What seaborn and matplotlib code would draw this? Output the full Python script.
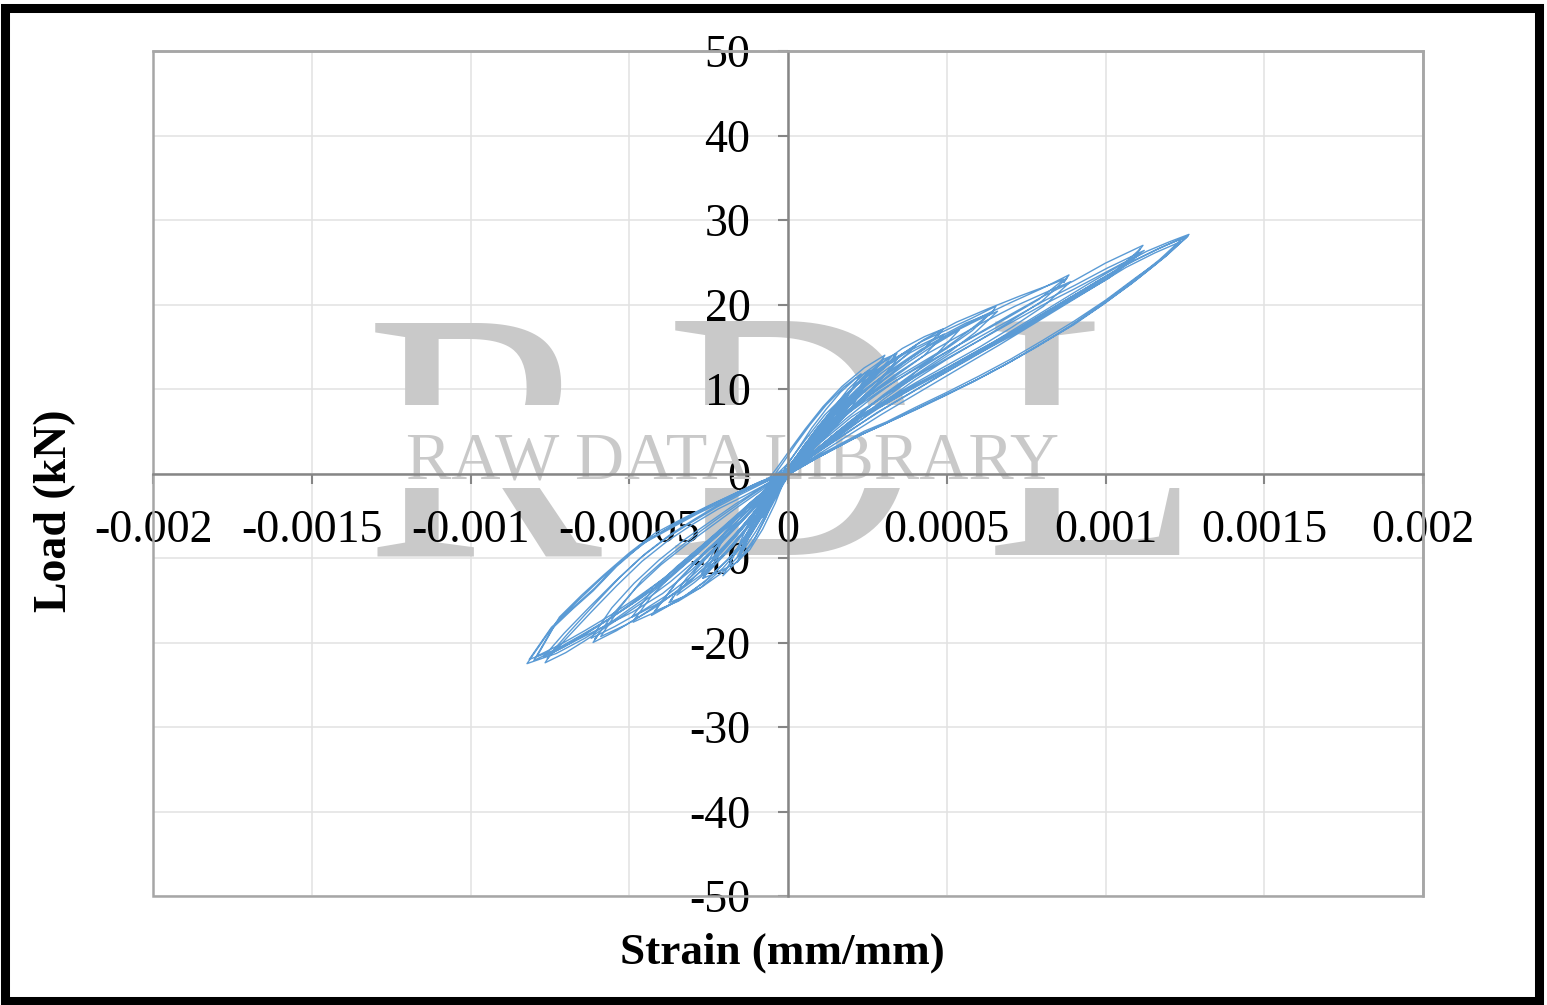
import matplotlib
matplotlib.use("Agg")
import matplotlib.pyplot as plt
from matplotlib.patches import Rectangle
import pandas as pd
import seaborn as sns

strain_01 = [0, 30, 60, 35, 10, -20, -50, -80, -55, -25, 0]
load_01 = [0.2, 2.0, 3.8, 2.5, 0.9, -1.2, -3.2, -5.2, -3.2, -1.4, 0.2]
strain_02 = [0, 40, 80, 110, 80, 45, 10, -30, -70, -120, -85, -45, -5]
load_02 = [0.3, 2.6, 4.6, 6.0, 4.2, 2.2, 0.4, -2.0, -4.4, -7.4, -4.8, -2.2, 0.3]
strain_03 = [0, 50, 110, 170, 130, 80, 25, -30, -90, -160, -115, -60, -10]
load_03 = [0.4, 3.2, 6.1, 8.8, 6.2, 3.6, 0.9, -1.9, -5.5, -9.9, -6.4, -3.0, 0.2]
strain_04 = [-5, 45, 100, 172, 125, 70, 20, -35, -95, -165, -125, -70, -15]
load_04 = [0.2, 2.6, 5.2, 8.6, 5.6, 3.0, 0.6, -1.7, -4.8, -9.4, -5.9, -2.8, 0.1]
strain_05 = [-5, 50, 120, 190, 258, 200, 130, 60, 5, -50, -120, -200, -268, -210, -130, -60, -10]
load_05 = [0.3, 3.2, 6.5, 9.6, 12.2, 8.3, 5.0, 2.3, 0.2, -2.4, -5.9, -9.5, -12.4, -8.2, -4.2, -1.8, 0.1]
strain_06 = [-10, 50, 130, 200, 262, 190, 110, 45, -5, -60, -130, -205, -272, -200, -120, -55, -12]
load_06 = [0.1, 2.7, 5.9, 9.0, 11.7, 7.2, 4.0, 1.6, -0.2, -2.5, -5.6, -8.9, -11.8, -7.0, -3.5, -1.5, 0.0]
strain_07 = [0, 40, 90, 140, 190, 245, 300, 343, 332, 338, 300, 250, 200, 150, 100, 50, 5]
load_07 = [0.7, 2.7, 5.3, 7.6, 10.0, 12.0, 13.5, 14.2, 13.6, 14.0, 12.4, 10.6, 8.7, 6.7, 4.5, 2.3, 0.2]
strain_08 = [0, 45, 100, 160, 220, 285, 345, 295, 240, 185, 130, 80, 30, -10, -50, -100, -150, -210, -270, -330, -375, -362, -368, -320, -260, -200, -140, -80, -20]
load_08 = [0.5, 2.7, 5.2, 7.8, 10.1, 12.2, 13.6, 11.2, 9.2, 7.1, 5.1, 3.1, 1.1, -0.6, -3.5, -6.8, -9.6, -11.8, -13.4, -14.6, -15.3, -14.6, -15.0, -12.4, -10.0, -7.8, -5.5, -3.0, -0.5]
strain_09 = [0, 50, 100, 160, 220, 290, 360, 430, 488, 472, 480, 430, 370, 300, 230, 160, 90, 30, -5, -60, -120, -180, -250, -320, -400, -488, -474, -482, -430, -360, -290, -220, -150, -80, -10]
load_09 = [0.6, 3.0, 5.4, 8.1, 10.6, 12.9, 14.8, 16.2, 17.1, 16.3, 16.8, 14.8, 13.2, 11.1, 8.9, 6.5, 3.7, 1.2, 0.0, -3.5, -7.0, -9.8, -12.4, -14.4, -16.1, -17.6, -16.8, -17.2, -14.5, -11.8, -9.4, -7.2, -4.9, -2.5, 0.0]
strain_10 = [-5, 55, 115, 175, 240, 310, 380, 440, 492, 430, 360, 290, 220, 150, 85, 25, -10, -70, -135, -200, -270, -340, -415, -492, -425, -350, -280, -210, -140, -70, -5]
load_10 = [0.3, 3.0, 5.7, 8.1, 10.5, 12.7, 14.5, 15.6, 16.5, 14.0, 12.1, 10.2, 8.1, 5.8, 3.2, 0.9, -0.4, -3.4, -6.7, -9.4, -11.9, -13.8, -15.5, -17.0, -13.7, -11.0, -8.8, -6.6, -4.3, -2.0, 0.2]
strain_11 = [0, 60, 120, 180, 250, 330, 420, 500, 580, 655, 642, 650, 580, 500, 420, 340, 260, 180, 100, 30, -15, -80, -150, -230, -310, -390, -470, -540, -614, -600, -608, -550, -480, -400, -320, -240, -160, -80, -10]
load_11 = [0.5, 3.4, 6.1, 8.6, 11.1, 13.4, 15.6, 17.0, 18.4, 19.8, 19.0, 19.4, 16.9, 14.8, 12.9, 11.0, 8.8, 6.4, 3.8, 1.1, -0.4, -3.4, -6.8, -10.0, -12.8, -15.0, -17.0, -18.6, -20.0, -19.2, -19.6, -16.6, -13.6, -10.8, -8.4, -6.2, -4.0, -1.9, 0.0]
strain_12 = [-5, 65, 130, 200, 275, 360, 445, 525, 600, 660, 590, 510, 430, 350, 270, 190, 110, 40, -12, -75, -145, -225, -305, -385, -465, -545, -620, -555, -485, -405, -325, -245, -165, -85, -15]
load_12 = [0.2, 3.2, 5.9, 8.5, 10.8, 13.0, 15.1, 16.8, 18.2, 19.2, 16.7, 14.4, 12.4, 10.4, 8.3, 6.0, 3.5, 1.0, -0.5, -3.1, -6.3, -9.5, -12.2, -14.5, -16.4, -18.1, -19.5, -15.9, -13.0, -10.2, -7.8, -5.7, -3.6, -1.7, 0.1]
strain_13 = [0, 80, 160, 240, 330, 420, 510, 600, 700, 800, 885, 868, 878, 800, 700, 600, 500, 400, 300, 200, 100, 20, -15, -100, -190, -280, -370, -460, -550, -640, -700, -765, -750, -758, -700, -620, -540, -460, -380, -300, -220, -140, -60, 0]
load_13 = [0.4, 3.8, 7.0, 9.9, 12.4, 14.7, 16.6, 18.4, 20.2, 21.9, 23.5, 22.6, 23.1, 20.4, 18.0, 15.7, 13.6, 11.4, 9.1, 6.7, 3.6, 0.7, -0.5, -3.4, -6.8, -9.9, -12.8, -15.3, -17.6, -19.8, -21.2, -22.4, -21.5, -21.9, -19.6, -16.4, -13.3, -10.4, -8.0, -6.0, -4.2, -2.7, -1.1, 0.2]
strain_14 = [-5, 85, 170, 255, 345, 435, 525, 615, 715, 810, 890, 805, 705, 605, 505, 405, 305, 205, 105, 25, -20, -105, -195, -285, -375, -465, -555, -645, -705, -770, -705, -625, -545, -465, -385, -305, -225, -145, -65, -5]
load_14 = [0.1, 3.5, 6.6, 9.4, 11.9, 14.1, 16.0, 17.9, 19.8, 21.4, 22.7, 19.8, 17.3, 15.0, 12.9, 10.8, 8.6, 6.2, 3.2, 0.5, -0.7, -3.2, -6.4, -9.5, -12.3, -14.8, -17.0, -19.2, -20.5, -21.7, -18.9, -15.8, -12.8, -10.0, -7.7, -5.8, -4.0, -2.4, -0.9, 0.1]
strain_15 = [0, 100, 200, 300, 400, 500, 600, 700, 800, 900, 1000, 1118, 1100, 1110, 1020, 920, 810, 709, 600, 500, 400, 320, 236, 150, 70, 0, -20, -100, -190, -280, -370, -460, -550, -640, -730, -822, -750, -680, -614, -540, -457, -370, -287, -200, -120, -40]
load_15 = [0.2, 3.2, 6.2, 9.3, 12.0, 14.4, 16.6, 18.8, 20.9, 22.8, 24.9, 27.0, 26.1, 26.6, 23.5, 21.3, 18.9, 16.6, 14.4, 12.4, 10.4, 8.7, 7.0, 4.7, 2.2, 0.2, -0.3, -3.0, -6.3, -9.3, -12.3, -15.0, -17.4, -19.5, -21.3, -22.5, -18.6, -16.1, -13.9, -11.0, -8.3, -6.5, -4.8, -3.2, -1.7, -0.3]
strain_16 = [-5, 105, 205, 305, 405, 505, 605, 705, 805, 905, 1005, 1122, 1025, 925, 815, 714, 605, 505, 405, 325, 240, 155, 75, 5, -25, -105, -195, -285, -375, -465, -555, -645, -735, -815, -745, -675, -610, -535, -452, -365, -282, -195, -115, -35]
load_16 = [0.0, 3.0, 5.9, 8.9, 11.6, 14.0, 16.2, 18.3, 20.4, 22.3, 24.3, 26.4, 23.9, 21.6, 19.2, 16.9, 14.7, 12.6, 10.6, 8.9, 7.2, 4.9, 2.4, 0.3, -0.5, -3.0, -6.0, -9.0, -11.9, -14.6, -17.0, -19.0, -20.9, -22.0, -18.2, -15.8, -13.6, -10.7, -8.1, -6.2, -4.5, -2.9, -1.5, -0.2]
strain_17 = [0, 100, 200, 300, 400, 500, 600, 700, 800, 900, 1000, 1110, 1010, 910, 800, 700, 590, 490, 390, 310, 226, 140, 60, -10]
load_17 = [-0.1, 2.7, 5.5, 8.4, 11.1, 13.5, 15.7, 17.8, 19.9, 21.8, 23.8, 26.0, 23.1, 20.9, 18.5, 16.2, 14.0, 12.0, 10.0, 8.3, 6.6, 4.3, 1.9, -0.1]
strain_18 = [-35, 40, 120, 200, 280, 360, 450, 540, 640, 740, 840, 940, 1040, 1130, 1200, 1263, 1244, 1256, 1180, 1100, 1000, 900, 800, 700, 600, 500, 400, 300, 236, 160, 90, 30, -10]
load_18 = [-0.4, 1.5, 3.5, 5.6, 7.6, 9.4, 11.4, 13.3, 15.4, 17.7, 20.0, 22.3, 24.5, 26.3, 27.4, 28.3, 27.6, 28.0, 25.4, 23.0, 20.2, 17.6, 15.4, 13.2, 11.2, 9.3, 7.5, 5.8, 4.7, 3.2, 1.8, 0.5, -0.4]
strain_19 = [-20, 60, 140, 220, 300, 390, 480, 570, 670, 770, 870, 970, 1070, 1160, 1245, 1170, 1090, 990, 890, 790, 690, 590, 490, 390, 295, 230, 155, 85, 25, -15]
load_19 = [-0.5, 1.7, 3.7, 5.7, 7.6, 9.6, 11.6, 13.6, 15.8, 18.1, 20.4, 22.6, 24.8, 26.5, 27.9, 25.3, 22.9, 20.1, 17.5, 15.2, 13.0, 11.0, 9.2, 7.4, 5.7, 4.6, 3.1, 1.7, 0.4, -0.5]
strain_20 = [-25, 55, 135, 215, 295, 385, 475, 565, 665, 765, 865, 965, 1065, 1155, 1235, 1160, 1080, 980, 880, 780, 680, 580, 480, 380, 290, 225, 150, 80, 20, -20]
load_20 = [-0.6, 1.3, 3.2, 5.1, 7.0, 9.0, 11.0, 13.0, 15.2, 17.5, 19.8, 22.1, 24.4, 26.1, 27.4, 24.8, 22.4, 19.7, 17.2, 14.9, 12.8, 10.8, 9.0, 7.2, 5.6, 4.5, 3.0, 1.6, 0.3, -0.6]
strain_21 = [-10, 35, 75, 120, 165, 215, 258, 225, 185, 140, 95, 50, 10, -10, -40, -80, -120, -165, -215, -268, -220, -170, -120, -70, -15]
load_21 = [0.6, 3.1, 5.4, 7.6, 9.6, 11.3, 12.2, 10.2, 8.3, 6.1, 3.9, 1.9, 0.3, -0.6, -3.5, -6.6, -9.0, -10.6, -11.6, -12.4, -9.8, -7.7, -5.5, -3.2, -0.6]
strain_22 = [-5, 45, 90, 140, 190, 240, 285, 325, 280, 230, 180, 130, 80, 30, -8, -60, -115, -175, -235, -295, -350, -290, -230, -170, -110, -55, -5]
load_22 = [0.4, 3.0, 5.3, 7.6, 9.6, 11.5, 12.9, 13.8, 11.8, 9.9, 7.9, 5.8, 3.6, 1.4, 0.0, -2.9, -5.9, -8.7, -11.0, -12.9, -14.4, -11.4, -8.9, -6.6, -4.2, -2.1, 0.1]
strain_23 = [0, 70, 140, 215, 295, 385, 470, 560, 640, 570, 490, 410, 335, 255, 175, 95, 25, -20, -95, -170, -255, -340, -425, -510, -590, -530, -460, -380, -300, -220, -140, -65, -5]
load_23 = [0.8, 4.0, 6.8, 9.4, 11.9, 14.3, 16.0, 17.8, 19.0, 16.9, 14.7, 12.9, 11.2, 9.2, 6.9, 4.2, 1.5, -0.2, -4.0, -7.6, -10.9, -13.7, -16.0, -17.9, -19.3, -15.9, -12.6, -9.9, -7.5, -5.3, -3.2, -1.3, 0.3]
strain_24 = [0, 75, 155, 240, 330, 430, 530, 630, 730, 830, 870, 790, 690, 590, 490, 390, 290, 195, 95, 15, -30, -115, -210, -300, -395, -490, -585, -675, -750, -690, -610, -530, -450, -370, -290, -210, -130, -50]
load_24 = [0.7, 4.0, 7.4, 10.6, 13.4, 15.9, 17.9, 19.5, 21.0, 22.4, 23.0, 20.6, 18.4, 16.3, 14.2, 12.1, 9.8, 7.3, 4.1, 1.0, -0.6, -4.3, -8.0, -11.3, -14.2, -16.4, -18.2, -19.9, -21.4, -18.8, -15.5, -12.3, -9.5, -7.2, -5.3, -3.5, -1.9, -0.6]
strain_25 = [-5, 55, 115, 180, 250, 330, 400, 330, 260, 190, 120, 55, 5, -35, -85, -145, -205, -275, -345, -420, -345, -270, -195, -125, -60, -5]
load_25 = [1.0, 4.0, 6.9, 9.3, 11.5, 13.5, 15.0, 12.6, 10.3, 7.9, 5.2, 2.6, 0.6, -1.4, -5.1, -8.6, -11.2, -13.5, -15.1, -16.3, -12.6, -9.6, -6.9, -4.4, -2.0, 0.4]
strain_26 = [-30, -85, -160, -240, -320, -400, -490, -570, -650, -735, -800, -730, -660, -590, -510, -430, -345, -265, -180, -100, -25]
load_26 = [-0.4, -2.4, -5.0, -7.8, -10.4, -13.0, -15.4, -17.4, -19.2, -21.0, -22.1, -17.6, -15.0, -12.5, -9.9, -7.6, -5.8, -4.2, -2.6, -1.2, 0.0]
strain_27 = [-20, -75, -150, -230, -310, -390, -480, -560, -640, -720, -790, -720, -650, -580, -500, -420, -335, -255, -170, -90, -15]
load_27 = [-0.2, -2.2, -4.6, -7.3, -9.9, -12.4, -14.8, -16.8, -18.6, -20.3, -21.6, -17.0, -14.4, -12.0, -9.4, -7.1, -5.4, -3.9, -2.4, -1.0, 0.1]
# The loops do not all meet at zero: these cross the axis left of it
strain_28 = [-45, -15, 25, 70, 120, 175, 230, 185, 135, 85, 40, 0, -35, -70, -115, -160, -120, -85, -50, -15, 15]
load_28 = [-0.3, 1.3, 3.5, 5.8, 8.1, 10.2, 11.8, 9.0, 6.4, 4.0, 1.9, 0.0, -1.7, -5.2, -8.4, -10.5, -7.3, -4.8, -2.6, -0.8, 1.0]
strain_29 = [-60, -30, 10, 55, 110, 170, 240, 305, 250, 190, 125, 65, 15, -20, -60, -100, -150, -205, -145, -95, -50, -10, 25]
load_29 = [-0.6, 0.9, 3.0, 5.3, 7.9, 10.3, 12.5, 14.0, 10.7, 8.0, 5.2, 2.7, 0.6, -1.6, -4.4, -7.4, -10.0, -12.1, -8.0, -5.0, -2.6, -0.6, 1.0]
strain_30 = [-40, 5, 50, 100, 160, 225, 300, 380, 460, 540, 470, 390, 310, 230, 150, 75, 10, -30, -70, -125, -190, -265, -345, -430, -350, -265, -185, -110, -45]
load_30 = [-0.8, 0.9, 2.6, 4.4, 6.5, 8.6, 11.0, 13.2, 15.2, 17.0, 14.2, 11.6, 9.4, 7.2, 4.8, 2.4, 0.2, -1.7, -4.1, -7.3, -10.2, -12.9, -15.0, -16.8, -12.8, -9.6, -6.9, -4.3, -1.9]
strain_31 = [-50, 30, 110, 190, 280, 370, 470, 570, 670, 770, 870, 980, 1090, 1190, 1260, 1190, 1100, 1000, 900, 800, 700, 600, 500, 400, 310, 240, 165, 95, 35, -5]
load_31 = [-0.9, 1.0, 2.9, 4.9, 7.2, 9.2, 11.4, 13.5, 15.7, 18.0, 20.4, 22.9, 25.2, 27.0, 28.1, 25.7, 23.3, 20.5, 18.0, 15.7, 13.5, 11.5, 9.6, 7.8, 6.1, 5.0, 3.5, 2.1, 0.8, -0.1]

strain_cycles = [strain_01, strain_02, strain_03, strain_04, strain_05, strain_06, strain_07, strain_08, strain_09,
                 strain_10, strain_11, strain_12, strain_13, strain_14, strain_15, strain_16, strain_17, strain_18,
                 strain_19, strain_20, strain_21, strain_22, strain_23, strain_24, strain_25, strain_26, strain_27,
                 strain_28, strain_29, strain_30, strain_31]
load_cycles = [load_01, load_02, load_03, load_04, load_05, load_06, load_07, load_08, load_09,
               load_10, load_11, load_12, load_13, load_14, load_15, load_16, load_17, load_18,
               load_19, load_20, load_21, load_22, load_23, load_24, load_25, load_26, load_27,
               load_28, load_29, load_30, load_31]

x_ticks = [-0.002, -0.0015, -0.001, -0.0005, 0, 0.0005, 0.001, 0.0015, 0.002]
x_tick_labels = ["-0.002", "-0.0015", "-0.001", "-0.0005", "0", "0.0005", "0.001", "0.0015", "0.002"]
y_ticks = [-50, -40, -30, -20, -10, 0, 10, 20, 30, 40, 50]

# Put everything in one table for seaborn
strain = [s / 1e6 for cycle in strain_cycles for s in cycle]
load = [v for cycle in load_cycles for v in cycle]
df = pd.DataFrame({"Strain": strain, "Load": load})

sns.set_theme(style="white")
plt.rcParams["font.family"] = ["Liberation Serif", "DejaVu Serif"]
plt.rcParams["axes.unicode_minus"] = False

W, H = 1547, 1005
fig = plt.figure(figsize=(W / 100, H / 100), dpi=100, facecolor="white")
ax = fig.add_axes([153 / W, 1 - 896 / H, 1270 / W, 845 / H])

# Grid sits under the watermark
for x in x_ticks:
    ax.axvline(x, color="#e2e2e2", lw=1.1, zorder=0.3)
for y in y_ticks:
    ax.axhline(y, color="#e2e2e2", lw=1.1, zorder=0.3)

# Big watermark letters, cut by the band that holds the small text
for box in [(51, 354), (488, 100)]:
    clip = Rectangle((0, 1 - (box[0] + box[1]) / H), 1, box[1] / H, transform=fig.transFigure)
    for letter, px in [("R", 365), ("D", 665), ("L", 985)]:
        t = ax.text(px / W, 1 - 555 / H, letter, transform=fig.transFigure, fontsize=256, color="#c9c9c9",
                    ha="left", va="baseline", zorder=0.5, clip_on=True)
        t.set_clip_path(clip)
ax.text(733 / W, 1 - 478 / H, "RAW DATA LIBRARY", transform=fig.transFigure, fontsize=49, color="#c9c9c9",
        ha="center", va="baseline", zorder=0.6)

sns.lineplot(data=df, x="Strain", y="Load", sort=False, estimator=None, color="#5b9bd5", lw=1.0, ax=ax, zorder=2)

ax.set_xlim(-0.002, 0.002)
ax.set_ylim(-50, 50)
ax.set_xticks(x_ticks)
ax.set_xticklabels(x_tick_labels)
ax.set_yticks(y_ticks)
ax.set_xlabel("")
ax.set_ylabel("")
ax.grid(False)

for side in ["left", "bottom"]:
    ax.spines[side].set_position("zero")
    ax.spines[side].set_color("#868686")
    ax.spines[side].set_linewidth(1.8)
for side in ["top", "right"]:
    ax.spines[side].set_color("#a6a6a6")
    ax.spines[side].set_linewidth(1.8)
ax.add_patch(Rectangle((0, 0), 1, 1, transform=ax.transAxes, fill=False, ec="#a6a6a6", lw=1.8, clip_on=False, zorder=2.4))

ax.tick_params(axis="x", direction="out", length=7, width=1.5, color="#868686", labelsize=33, pad=19, labelcolor="black",
               bottom=True)
ax.tick_params(axis="y", direction="out", length=7, width=1.5, color="#868686", labelsize=33, pad=20, labelcolor="black",
               left=True)

fig.text(782 / W, 1 - 953 / H, "Strain (mm/mm)", fontsize=32.5, fontweight="bold", ha="center", va="center", color="black")
fig.text(55 / W, 1 - 511 / H, "Load (kN)", fontsize=33, fontweight="bold", rotation=90, ha="center", va="center", color="black")

# Black frame around the whole picture
fig.add_artist(Rectangle((4.5 / W, 4.5 / H), (W - 13) / W, (H - 13) / H, transform=fig.transFigure, fill=False, ec="black", lw=6.5))

fig.savefig("out.png", dpi=100)
